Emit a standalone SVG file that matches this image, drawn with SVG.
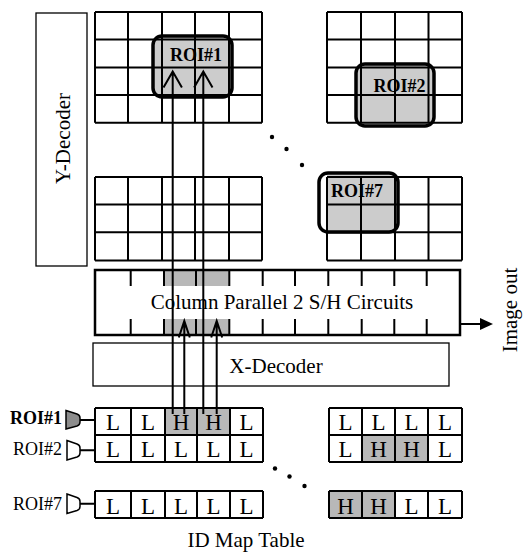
<svg xmlns="http://www.w3.org/2000/svg" width="524" height="552" viewBox="0 0 524 552">
<style>
text{font-family:"Liberation Serif","Times New Roman",serif;fill:#000}
.grid{fill:none;stroke:#000;stroke-width:2}
.roi{fill:none;stroke:#000;stroke-width:3.5}
.gray{fill:#cccccc}
.hgray{fill:#b8b8b8}
.thin{fill:#fff;stroke:#000;stroke-width:1.3}
.conn{fill:none;stroke:#000;stroke-width:2}
.lab{font-size:18px}
.roit{font-size:18px;font-weight:bold;text-anchor:middle}
.cell{font-size:23px;text-anchor:middle}
.big{font-size:21px;text-anchor:middle}
</style>
<rect width="524" height="552" fill="#fff"/>

<g id="y-decoder">
<rect class="thin" x="36" y="13" width="51" height="253"/>
<text class="big" transform="translate(69.5,138.5) rotate(-90)">Y-Decoder</text>
</g>

<g id="pixel-array-top-left">
<rect class="gray" x="153" y="36" width="79" height="61" rx="9"/>
<path class="grid" d="M95,12H262M95,39.5H262M95,67.5H262M95,95H262M95,122.7H262M95,12V122.7M128,12V122.7M162,12V122.7M195,12V122.7M229,12V122.7M262,12V122.7"/>
<rect class="roi" x="153" y="36" width="79" height="61" rx="9"/>
<text class="roit" x="196" y="61">ROI#1</text>
</g>

<g id="pixel-array-top-right">
<rect class="gray" x="356" y="64" width="78" height="62" rx="9"/>
<path class="grid" d="M327,12H462M327,39.5H462M327,67.5H462M327,95H462M327,122.7H462M327,12V122.7M361,12V122.7M395,12V122.7M428.5,12V122.7M462,12V122.7"/>
<rect class="roi" x="356" y="64" width="78" height="62" rx="9"/>
<text class="roit" x="399.5" y="92">ROI#2</text>
</g>

<g id="pixel-array-mid-left">
<path class="grid" d="M95,177H262M95,204.5H262M95,232.3H262M95,260.5H262M95,177V260.5M128,177V260.5M162,177V260.5M195,177V260.5M229,177V260.5M262,177V260.5"/>
</g>

<g id="pixel-array-mid-right">
<path class="gray" d="M327,173.5H389Q397.5,173.5 397.5,182V223Q397.5,231.5 389,231.5H327Z"/>
<path class="grid" d="M327,177H462M327,204.5H462M327,232.3H462M327,260.5H462M327,177V260.5M361,177V260.5M395,177V260.5M428.5,177V260.5M462,177V260.5"/>
<rect class="roi" x="319" y="173" width="79" height="59" rx="9"/>
<text class="roit" x="357" y="197">ROI#7</text>
</g>

<g id="ellipsis">
<circle cx="272" cy="137" r="2.2"/>
<circle cx="286.5" cy="149" r="2.2"/>
<circle cx="302" cy="165" r="2.2"/>
<circle cx="275" cy="468.5" r="2.2"/>
<circle cx="289.5" cy="476.5" r="2.2"/>
<circle cx="304.5" cy="486" r="2.2"/>
</g>

<g id="sh-circuits">
<rect class="hgray" x="164" y="270" width="65.3" height="16"/>
<rect class="hgray" x="164" y="319" width="65.3" height="16"/>
<rect x="95" y="270" width="365" height="65" fill="none" stroke="#000" stroke-width="2.5"/>
<path class="grid" d="M130.7,270V286M164,270V286M196,270V286M229.3,270V286M262.7,270V286M295,270V286M328.3,270V286M361.7,270V286M394.3,270V286M426.7,270V286M130.7,319V335M164,319V335M196,319V335M229.3,319V335M262.7,319V335M295,319V335M328.3,319V335M361.7,319V335M394.3,319V335M426.7,319V335"/>
<text class="big" x="282" y="309">Column Parallel 2 S/H Circuits</text>
</g>

<g id="x-decoder">
<rect class="thin" x="93" y="343" width="356" height="43"/>
<text class="big" x="276" y="373">X-Decoder</text>
</g>

<g id="image-out">
<text class="big" font-size="20" transform="translate(517,310) rotate(-90)">Image out</text>
</g>

<g id="id-map-left">
<rect class="hgray" x="165" y="408" width="65" height="27"/>
<path class="grid" d="M95,408H263M95,435H263M95,462H263M95,408V462M131,408V462M165,408V462M197,408V462M230,408V462M263,408V462"/>
<path class="grid" d="M95,491H263M95,518H263M95,491V518M131,491V518M165,491V518M197,491V518M230,491V518M263,491V518"/>
<text class="cell" x="113" y="430">L</text><text class="cell" x="148" y="430">L</text><text class="cell" x="181" y="430">H</text><text class="cell" x="213.5" y="430">H</text><text class="cell" x="246.5" y="430">L</text>
<text class="cell" x="113" y="457">L</text><text class="cell" x="148" y="457">L</text><text class="cell" x="181" y="457">L</text><text class="cell" x="213.5" y="457">L</text><text class="cell" x="246.5" y="457">L</text>
<text class="cell" x="113" y="513.5">L</text><text class="cell" x="148" y="513.5">L</text><text class="cell" x="181" y="513.5">L</text><text class="cell" x="213.5" y="513.5">L</text><text class="cell" x="246.5" y="513.5">L</text>
</g>

<g id="id-map-right">
<rect class="hgray" x="362" y="435" width="66" height="27"/>
<rect class="hgray" x="329" y="491" width="66" height="27"/>
<path class="grid" d="M329,408H462M329,435H462M329,462H462M329,408V462M362,408V462M395,408V462M428,408V462M462,408V462"/>
<path class="grid" d="M329,491H462M329,518H462M329,491V518M362,491V518M395,491V518M428,491V518M462,491V518"/>
<text class="cell" x="345.5" y="430">L</text><text class="cell" x="378.5" y="430">L</text><text class="cell" x="411.5" y="430">L</text><text class="cell" x="445" y="430">L</text>
<text class="cell" x="345.5" y="457">L</text><text class="cell" x="378.5" y="457">H</text><text class="cell" x="411.5" y="457">H</text><text class="cell" x="445" y="457">L</text>
<text class="cell" x="345.5" y="513.5">H</text><text class="cell" x="378.5" y="513.5">H</text><text class="cell" x="411.5" y="513.5">L</text><text class="cell" x="445" y="513.5">L</text>
</g>

<g id="roi-selectors">
<text class="lab" x="62" y="424" text-anchor="end" font-weight="bold">ROI#1</text>
<path d="M66,410.5L77,414Q80,415 80,418V422Q80,425 77,426L66,429Z" fill="#8c8c8c" stroke="#000" stroke-width="1.5"/>
<text class="lab" x="62" y="455" text-anchor="end">ROI#2</text>
<path d="M67,440.5L77,444Q80,445 80,448V453Q80,456 77,457L67,460Z" fill="#fff" stroke="#000" stroke-width="1.5"/>
<text class="lab" x="62" y="509.5" text-anchor="end">ROI#7</text>
<path d="M67,494L77,497.5Q80,498.5 80,501.5V506.5Q80,509.5 77,510.5L67,513.5Z" fill="#fff" stroke="#000" stroke-width="1.5"/>
</g>

<g id="caption">
<text class="big" font-size="20" x="246" y="547">ID Map Table</text>
</g>

<g id="connectors">
<path class="conn" d="M172.7,414V72M203.3,414V72M163.5,87.5L172.7,71.5L181.9,87.5M194.1,87.5L203.3,71.5L212.5,87.5"/>
<path class="conn" d="M184.3,414V322M216.7,414V322M178.8,337.5L184.3,321L189.8,337.5M211.2,337.5L216.7,321L222.2,337.5"/>
<path class="conn" d="M460,324H481"/>
<path d="M480,318L493,324L480,330Z"/>
<path class="conn" d="M80,420H95M80,450.3H95M80,503.7H95"/>
</g>
</svg>
